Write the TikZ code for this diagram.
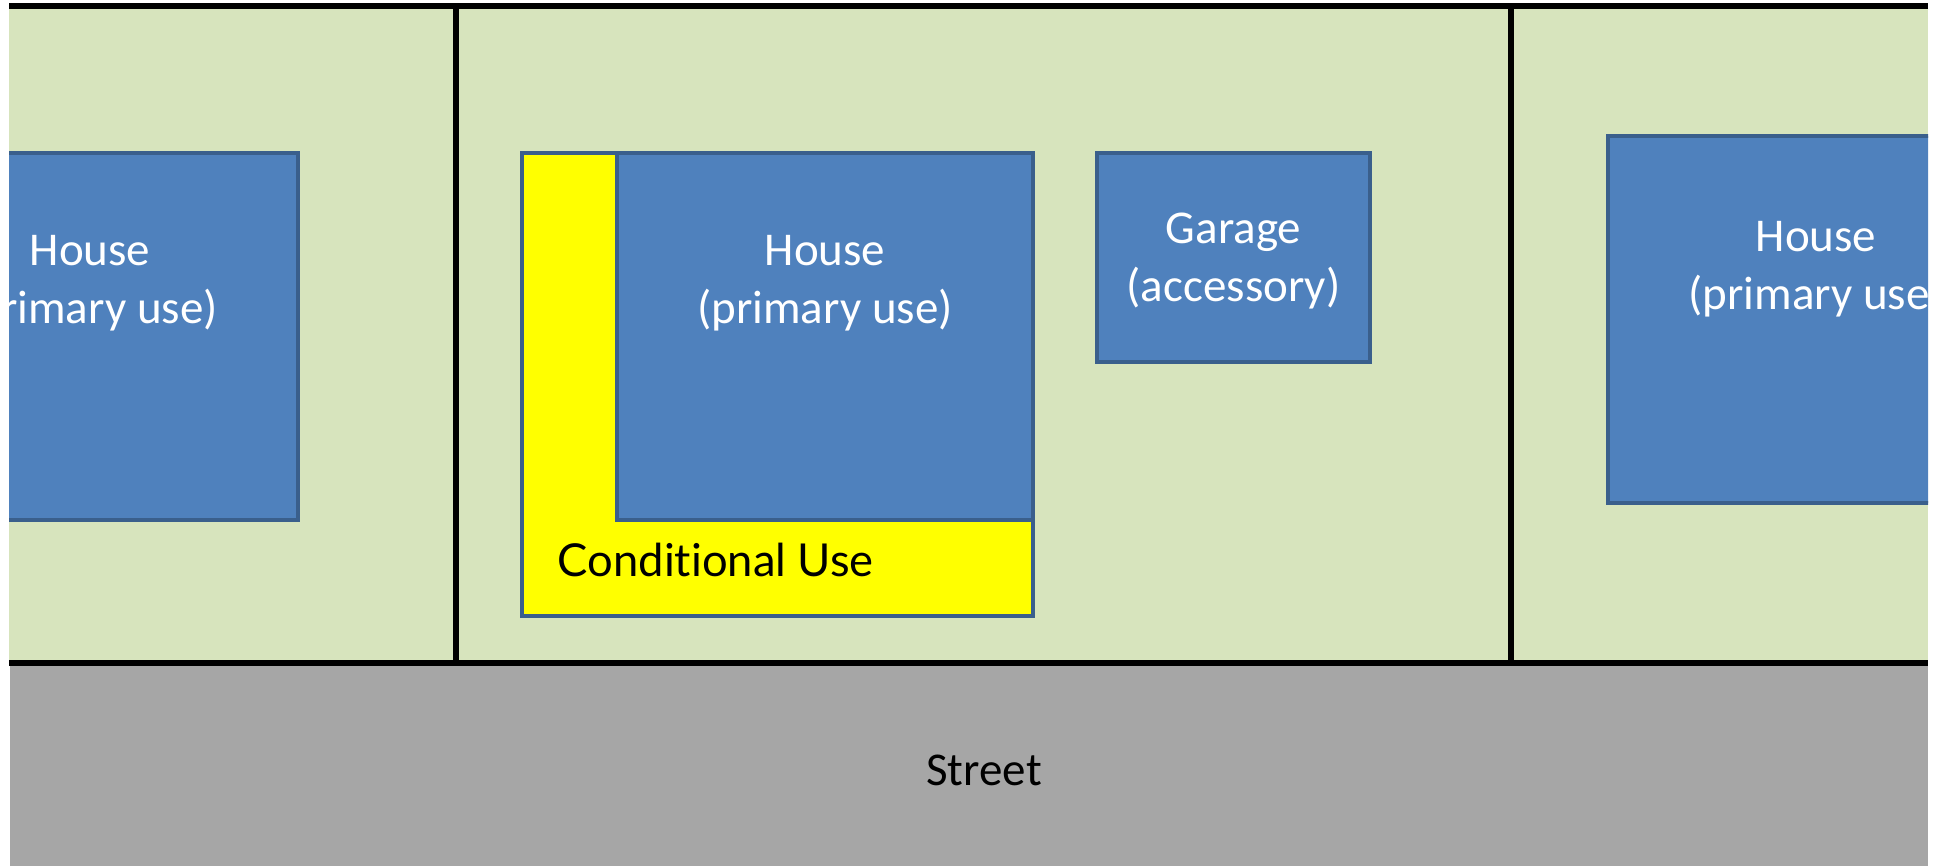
\documentclass[tikz,border=0pt]{standalone}
\usepackage{fontspec}
\setmainfont{Carlito}
\newfontfamily\gillfont[Ligatures={NoCommon,NoRare,NoDiscretionary}]{Lato}
\definecolor{lawn}{HTML}{D7E4BD}
\definecolor{bldg}{HTML}{4F81BD}
\definecolor{bldgedge}{HTML}{3A5F8C}
\definecolor{road}{HTML}{A6A6A6}
\definecolor{cuse}{HTML}{FFFF00}
\tikzset{
  bx/.style={rectangle, anchor=north west, inner sep=0pt, draw=bldgedge, line width=1.1pt},
  housebox/.style={bx, fill=bldg, minimum width=4.16cm, minimum height=3.67cm},
  lbl/.style={inner sep=0pt, align=center, font=\fontsize{13.37pt}{16.5pt}\selectfont},
  wlbl/.style={lbl, text=white},
  lotline/.style={line width=1.5pt, black}
}
\begin{document}
\begin{tikzpicture}[x=0.01cm, y=-0.01cm]
\useasboundingbox (0,0) rectangle (1940,866);
% street and lawn
\fill[road] (10,663) rectangle (1928,866);
\fill[lawn] (9,6) rectangle (1928,663);
\begin{scope}
\clip (9,6) rectangle (1928,663);
% left house (cut)
\node[housebox] (hL) at (-120,151) {};
\node[wlbl] (hLt) at ([yshift=-1.32cm]hL.north) {House\\(primary use)};
% right house (cut)
\node[housebox] (hR) at (1606,134) {};
\node[wlbl] (hRt) at ([yshift=-1.35cm]hR.north) {House\\(primary use)};
\end{scope}
% conditional use L
\node[bx, fill=cuse, minimum width=5.11cm, minimum height=4.63cm] (cu) at (520,151) {};
\node[housebox] (hM) at (615,151) {};
\node[wlbl] (hMt) at ([yshift=-1.32cm]hM.north) {House\\(primary use)};
\node[inner sep=0pt, anchor=west, font=\gillfont\fontsize{12.9pt}{16pt}\selectfont] (cut) at (557,560) {Conditional Use};
% garage
\node[bx, fill=bldg, minimum width=2.73cm, minimum height=2.09cm] (gar) at (1095,151) {};
\node[wlbl] (gart) at ([yshift=-0.035cm]gar.center) {Garage\\(accessory)};
% lot lines
\coordinate (tl) at (9,6);
\coordinate (tr) at (1928,6);
\coordinate (bl) at (9,663);
\coordinate (br) at (1928,663);
\coordinate (v1t) at (456,6);
\coordinate (v1b) at (456,663);
\coordinate (v2t) at (1511,6);
\coordinate (v2b) at (1511,663);
\draw[lotline] (tl) -- (tr);
\draw[lotline] (bl) -- (br);
\draw[lotline] (v1t) -- (v1b);
\draw[lotline] (v2t) -- (v2b);
% street label
\node[lbl] (st) at (984,770) {Street};
\end{tikzpicture}
\end{document}
